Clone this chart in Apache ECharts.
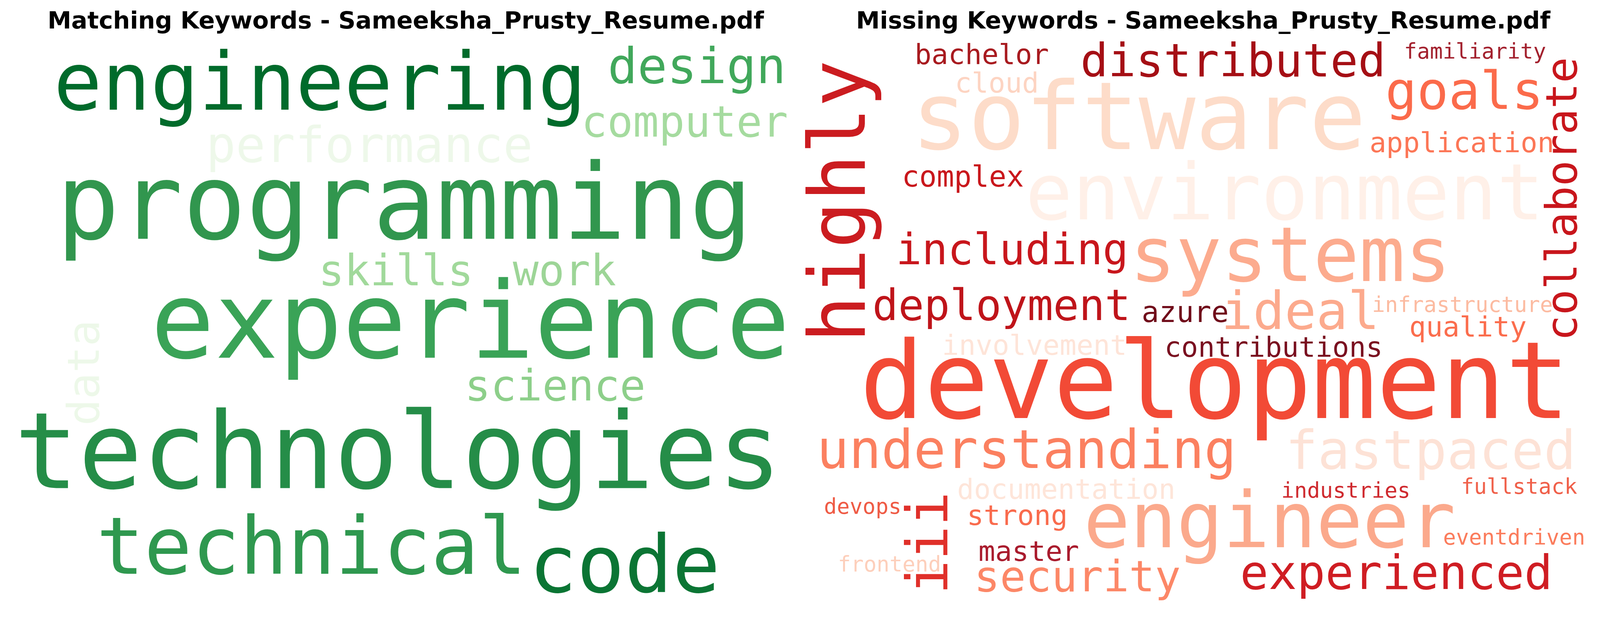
<!DOCTYPE html>
<html>
<head>
<meta charset="utf-8">
<title>Keyword clouds</title>
<script src="https://cdn.jsdelivr.net/npm/echarts@6/dist/echarts.min.js"></script>
<style>
  html, body { margin: 0; padding: 0; width: 100%; height: 100%; overflow: hidden; background: #fff; }
  #main { width: 100vw; height: 100vh; }
</style>
</head>
<body>
<div id="main"></div>
<script>
// word cloud canvas is 800 x 536 units, drawn at 2.7 px per unit on a 4470 x 1591 figure
var FIG_W = 4470, FIG_H = 1591;
var CLOUD_W = 800, CLOUD_H = 536, SCALE = 2.7, MAX_FONT = 111;

// ---- matching keywords ----
var matchWords = ['engineering', 'design', 'computer', 'performance', 'programming', 'skills', 'work',
  'experience', 'data', 'science', 'technologies', 'technical', 'code'];
// relative frequency (largest word = 1)
var matchFreq = [0.75, 0.46, 0.40, 0.46, 0.98, 0.40, 0.40, 0.99, 0.41, 0.40, 0.99, 0.74, 0.74];
// placed position of each word in the cloud (x centre, baseline) and its rotation
var matchLayout = [[310.7, 71.9], [700.7, 44.4], [688.1, 94.4], [361.9, 118.9], [398.1, 196.7],
  [389.3, 235.6], [563.7, 235.6], [466.3, 309.6], [85.9, 314.8], [554.1, 344.8], [391.5, 433.3],
  [301.9, 512.2], [625.9, 529.6]];
var matchRotate = [0, 0, 0, 0, 0, 0, 0, 0, 90, 0, 0, 0, 0];
var matchColors = ['#006b2b', '#41a85b', '#a5db9f', '#eef8ea', '#31964e', '#a1d99b', '#9dd597',
  '#3aa357', '#edf8e9', '#8dcf8a', '#258d48', '#2f984f', '#0b7534'];

// ---- missing keywords ----
var missWords = ['highly', 'bachelor', 'distributed', 'familiarity', 'cloud', 'software', 'goals',
  'collaborate', 'application', 'environment', 'complex', 'including', 'systems', 'deployment',
  'azure', 'ideal', 'infrastructure', 'quality', 'involvement', 'contributions', 'development',
  'understanding', 'fastpaced', 'documentation', 'devops', 'iii', 'strong', 'master', 'frontend',
  'security', 'industries', 'engineer', 'experienced', 'fullstack', 'eventdriven'];
var missFreq = [0.73, 0.26, 0.43, 0.20, 0.26, 0.88, 0.49, 0.40, 0.26, 0.73, 0.27, 0.40, 0.71, 0.40,
  0.27, 0.49, 0.20, 0.26, 0.26, 0.26, 1.00, 0.50, 0.50, 0.26, 0.20, 0.53, 0.26, 0.26, 0.20,
  0.40, 0.20, 0.72, 0.44, 0.20, 0.20];
var missLayout = [[63.3, 152.2], [177.0, 24.4], [437.0, 37.8], [687.4, 18.5], [192.6, 51.1],
  [339.3, 110.7], [676.3, 68.9], [796.3, 150.0], [673.7, 107.8], [490.4, 175.9], [157.4, 140.7],
  [208.5, 215.6], [496.3, 234.4], [197.4, 268.5], [387.4, 269.3], [506.7, 277.8], [674.4, 258.9],
  [680.0, 282.6], [231.5, 300.0], [478.9, 301.9], [418.1, 367.0], [223.3, 409.6], [641.5, 410.4],
  [264.4, 437.0], [53.7, 450.4], [146.7, 476.3], [213.7, 461.5], [225.6, 495.6], [81.5, 505.2],
  [275.9, 525.9], [553.7, 435.2], [474.8, 487.0], [605.9, 524.1], [733.0, 431.5], [727.8, 479.6]];
var missRotate = [90, 0, 0, 0, 0, 0, 0, 90, 0, 0, 0, 0, 0, 0, 0, 0, 0, 0, 0, 0, 0, 0, 0, 0, 0,
  90, 0, 0, 0, 0, 0, 0, 0, 0, 0];
var missColors = ['#cb1c20', '#a81a1f', '#a50f15', '#a3212e', '#fdd4c2', '#fddcc9', '#fb6b4b',
  '#c8161c', '#fc7656', '#fff0e8', '#c9171c', '#c8161c', '#fcab8e', '#bf141a', '#700c1a',
  '#fcaa8d', '#fcbba1', '#fb6d4d', '#fee4d8', '#7a1020', '#f24a36', '#fb8060', '#fde2d6',
  '#fee5d9', '#ef5b45', '#e0302a', '#f96b4d', '#a91b2d', '#fdcfbb', '#fc8767', '#cf2a2f',
  '#fba98c', '#cf1d23', '#f0604a', '#fb7c5c'];

var titles = ['Matching Keywords - Sameeksha_Prusty_Resume.pdf', 'Missing Keywords - Sameeksha_Prusty_Resume.pdf'];

var myChart = echarts.init(document.getElementById('main'), null, { renderer : 'canvas' });
// the page may be smaller than the figure, so every size follows the chart size
var kx = myChart.getWidth() / FIG_W;
var ky = myChart.getHeight() / FIG_H;

function cloudSeries(words, freq, layout, rotate, colors, idx) {
	return {
		type : 'scatter',
		xAxisIndex : idx,
		yAxisIndex : idx,
		symbolSize : 1,
		silent : true,
		itemStyle : { color : 'transparent', opacity : 1 },
		data : words.map(function(w, i) {
			var fs = freq[i] * MAX_FONT * SCALE * kx;
			return {
				name : w,
				value : layout[i],
				label : {
					show : true,
					position : 'inside',
					formatter : w,
					fontFamily : 'DejaVu Sans Mono',
					fontSize : fs,
					color : colors[i],
					opacity : 1,
					rotate : rotate[i],
					align : 'center',
					verticalAlign : 'middle',
					// offset turns with the text: lift the em-box centre so the point is the baseline
					offset : [0, -fs * 0.35]
				}
			};
		})
	};
}

var titleStyle = { fontFamily : 'DejaVu Sans', fontWeight : 'bold', fontSize : 66.7 * kx, color : '#000' };

var option = {
	backgroundColor : '#ffffff',
	animation : false,
	title : [ {
		text : titles[0], left : 1128 * kx, top : 22 * ky, textAlign : 'center', textStyle : titleStyle
	}, {
		text : titles[1], left : 3356 * kx, top : 22 * ky, textAlign : 'center', textStyle : titleStyle
	} ],
	grid : [
		{ left : 55 * kx, top : 105 * ky, width : CLOUD_W * SCALE * kx, height : CLOUD_H * SCALE * ky },
		{ left : 2265 * kx, top : 105 * ky, width : CLOUD_W * SCALE * kx, height : CLOUD_H * SCALE * ky }
	],
	xAxis : [0, 1].map(function(i) {
		return { type : 'value', gridIndex : i, min : 0, max : CLOUD_W, show : false };
	}),
	yAxis : [0, 1].map(function(i) {
		return { type : 'value', gridIndex : i, min : 0, max : CLOUD_H, inverse : true, show : false };
	}),
	series : [
		cloudSeries(matchWords, matchFreq, matchLayout, matchRotate, matchColors, 0),
		cloudSeries(missWords, missFreq, missLayout, missRotate, missColors, 1)
	]
};
myChart.setOption(option);
</script>
</body>
</html>
